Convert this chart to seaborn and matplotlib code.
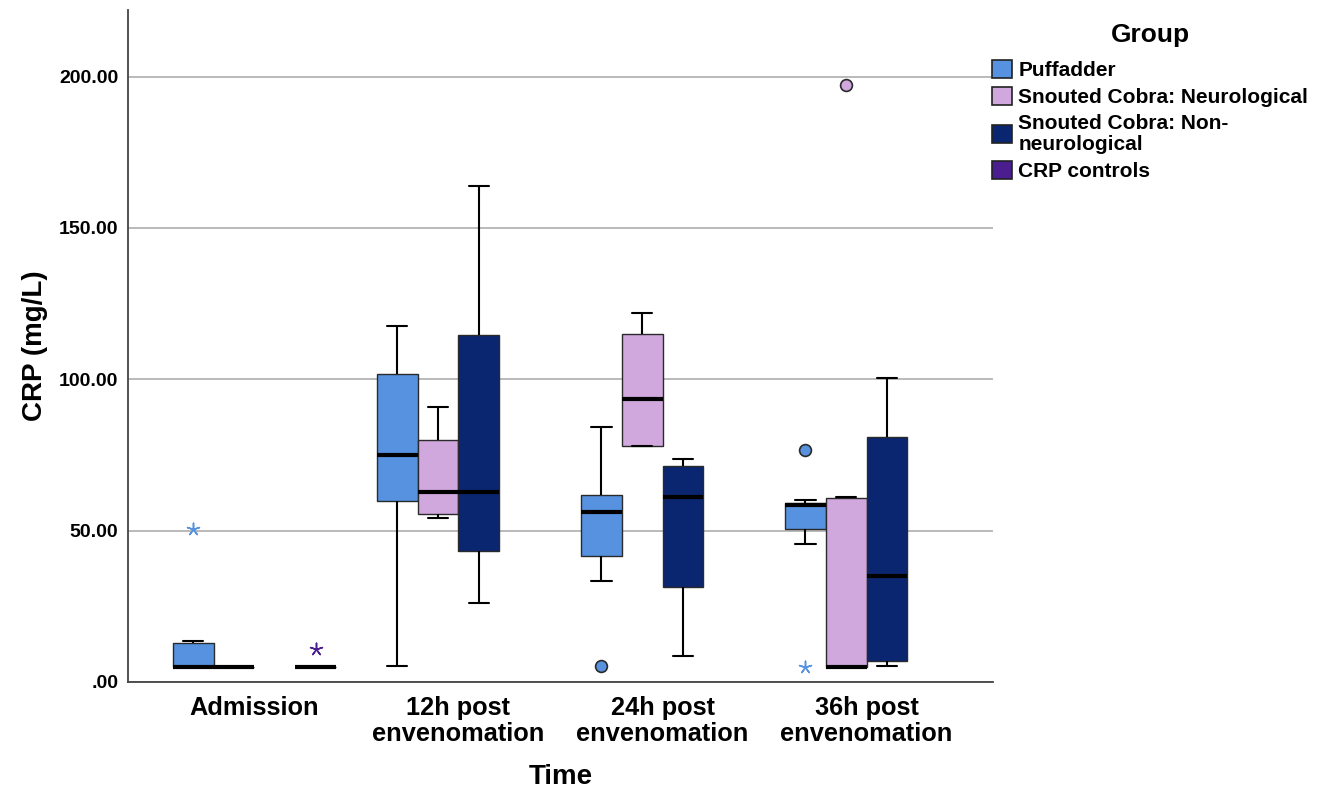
import numpy as np
import pandas as pd
import matplotlib
matplotlib.use('Agg')
import matplotlib.pyplot as plt
import seaborn as sns
from matplotlib.patches import Patch
from matplotlib.ticker import FuncFormatter, MultipleLocator

# categories
times = ['Admission', '12h post\nenvenomation', '24h post\nenvenomation', '36h post\nenvenomation']
groups = ['Puffadder', 'Snouted Cobra: Neurological', 'Snouted Cobra: Non-\nneurological', 'CRP controls']
colors = ['#5692E0', '#D0A8DD', '#0A2670', '#4B1E8F']

# box summaries, one per time point:
# [low whisker, Q1, median, Q3, high whisker]  (None = no box)
puffadder = [
    [5.0, 5.0, 5.0, 13.0, 13.4],
    [5.2, 59.9, 75.0, 101.7, 117.7],
    [33.5, 41.7, 56.1, 61.7, 84.1],
    [45.7, 50.4, 58.4, 59.2, 60.0],
]
cobra_neuro = [
    [5.0, 5.0, 5.0, 5.0, 5.0],
    [54.1, 55.5, 62.9, 80.0, 90.8],
    [77.8, 78.0, 93.5, 115.0, 121.9],
    [5.0, 5.0, 5.0, 60.9, 61.2],
]
cobra_non_neuro = [
    None,
    [26.2, 43.3, 62.8, 114.5, 164.0],
    [8.6, 31.3, 61.1, 71.2, 73.6],
    [5.2, 6.8, 35.1, 80.9, 100.5],
]
crp_controls = [
    [5.0, 5.0, 5.0, 5.0, 5.0],
    None,
    None,
    None,
]

# outliers (circles) and extremes (stars): (time index, group index, value)
outliers = [(2, 0, 5.3), (3, 0, 76.6), (3, 1, 197.2)]
extremes = [(0, 0, 50.6), (3, 0, 5.1), (0, 3, 10.9)]

rows = []
for g, series in zip(groups, [puffadder, cobra_neuro, cobra_non_neuro, crp_controls]):
    for t, vals in zip(times, series):
        if vals is None:
            continue
        for v in vals:
            rows.append({'Time': t, 'Group': g, 'CRP': v})
df = pd.DataFrame(rows)

df_out = pd.DataFrame([{'Time': times[t], 'Group': groups[g], 'CRP': v} for t, g, v in outliers])
df_ext = pd.DataFrame([{'Time': times[t], 'Group': groups[g], 'CRP': v} for t, g, v in extremes])

sns.set_style('white')
plt.rcParams['font.family'] = ['Liberation Sans', 'DejaVu Sans']
plt.rcParams['font.weight'] = 'bold'
plt.rcParams['text.color'] = 'black'
plt.rcParams['axes.labelcolor'] = 'black'
plt.rcParams['xtick.color'] = 'black'
plt.rcParams['ytick.color'] = 'black'

fig, ax = plt.subplots(figsize=(13.25, 7.93), dpi=100)
fig.subplots_adjust(left=128 / 1325, right=993 / 1325, bottom=1 - 682 / 793, top=1 - 10 / 793)

sns.boxplot(data=df, x='Time', y='CRP', hue='Group', order=times, hue_order=groups,
            palette=colors, saturation=1, width=0.8, gap=0, whis=np.inf,
            linecolor='#2a2a2a', linewidth=1.0,
            medianprops=dict(color='black', linewidth=3),
            whiskerprops=dict(color='black', linewidth=1.5),
            capprops=dict(color='black', linewidth=1.5),
            legend=False, ax=ax)

sns.stripplot(data=df_out, x='Time', y='CRP', hue='Group', order=times, hue_order=groups,
              palette=colors, dodge=True, jitter=False, size=8.5, linewidth=1.2,
              edgecolor='#2a2a2a', legend=False, ax=ax, zorder=5)

sns.stripplot(data=df_ext, x='Time', y='CRP', hue='Group', order=times, hue_order=groups,
              palette=colors, dodge=True, jitter=False, size=9, linewidth=1.1,
              marker=(5, 2, 0), edgecolor='face', legend=False, ax=ax, zorder=5)

ax.set_ylim(0, 222)
ax.set_xlim(-0.62, 3.62)
ax.yaxis.set_major_locator(MultipleLocator(50))


def fmt(v, pos):
    s = f'{v:.2f}'
    return s[1:] if s.startswith('0') else s


ax.yaxis.set_major_formatter(FuncFormatter(fmt))
ax.yaxis.grid(True, color='#b4b4b4', linewidth=1.3)
ax.set_axisbelow(True)

for side in ['top', 'right']:
    ax.spines[side].set_visible(False)
for side in ['left', 'bottom']:
    ax.spines[side].set_color('#444444')
    ax.spines[side].set_linewidth(1.3)

ax.tick_params(axis='y', length=0, pad=7, labelsize=14)
ax.tick_params(axis='x', length=0, pad=10, labelsize=18.3)
for lab in ax.get_xticklabels():
    lab.set_fontweight('bold')
    lab.set_linespacing(1.1)
for lab in ax.get_yticklabels():
    lab.set_fontweight('bold')

ax.set_ylabel('CRP (mg/L)', fontsize=20, fontweight='bold', labelpad=8)
ax.set_xlabel('Time', fontsize=20, fontweight='bold')
ax.xaxis.label.set_va('center')
ax.xaxis.set_label_coords(0.5, -(777 - 682) / 672)

# legend: title drawn as its own text so the gap under it can match
fig.text(1150 / 1325, 1 - 35 / 793, 'Group', ha='center', va='center',
         fontsize=19, fontweight='bold')
handles = [Patch(facecolor=c, edgecolor='#222222', linewidth=1.2) for c in colors]
leg = ax.legend(handles, groups, loc='upper left',
                bbox_to_anchor=(992 / 1325, 1 - 60 / 793), bbox_transform=fig.transFigure,
                frameon=False, borderpad=0, borderaxespad=0,
                handlelength=0.96, handleheight=0.96, handletextpad=0.3,
                labelspacing=0.32, fontsize=15)
for txt in leg.get_texts():
    txt.set_fontweight('bold')
    txt.set_linespacing(1.15)

plt.savefig('out.png', dpi=100)
